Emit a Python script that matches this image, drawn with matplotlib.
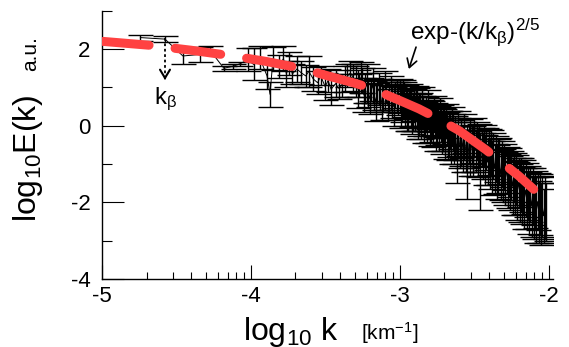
import numpy as np
import matplotlib
matplotlib.use("Agg")
import matplotlib.pyplot as plt

plt.rcParams['font.family'] = ['Liberation Sans', 'DejaVu Sans']
plt.rcParams['mathtext.fontset'] = 'custom'
plt.rcParams['mathtext.rm'] = 'Liberation Sans'
plt.rcParams['mathtext.it'] = 'Liberation Sans'
plt.rcParams['axes.unicode_minus'] = False

# measured spectrum (log10 k, log10 E, error), low k part
logk_lo = [-4.74, -4.575, -4.455, -4.34, -4.275, -4.18, -4.12, -4.07,
           -4.02, -3.98, -3.94, -3.89, -3.87, -3.85, -3.81, -3.78, -3.76,
           -3.74, -3.72, -3.69, -3.66, -3.63, -3.61, -3.58, -3.55, -3.53, -3.50,
           -3.48, -3.46, -3.43, -3.41, -3.39, -3.37, -3.35, -3.33, -3.31, -3.29,
           -3.27, -3.25, -3.23, -3.21, -3.19, -3.17, -3.15, -3.13, -3.11, -3.09,
           -3.07, -3.05, -3.03, -3.01]
logE_lo = [2.30, 2.26, 1.82, 1.86, 1.98, 1.50, 1.55, 1.62,
           1.72, 1.60, 1.78, 1.30, 0.82, 1.75, 1.55, 1.75, 1.35,
           1.62, 1.35, 1.48, 1.38, 1.30, 1.42, 1.22, 1.12, 1.30, 1.02,
           1.18, 0.95, 1.10, 0.98, 1.05, 1.22, 1.30, 1.38, 1.25, 1.15,
           1.05, 1.18, 0.98, 0.85, 0.95, 0.78, 0.90, 0.82, 0.70, 0.88,
           0.75, 0.62, 0.80, 0.68]
err_lo = [0.08, 0.07, 0.22, 0.20, 0.10, 0.06, 0.07, 0.05,
          0.30, 0.42, 0.30, 0.35, 0.32, 0.30, 0.30, 0.32, 0.35,
          0.30, 0.25, 0.35, 0.30, 0.28, 0.40, 0.32, 0.30, 0.25, 0.35,
          0.30, 0.40, 0.35, 0.28, 0.30, 0.35, 0.30, 0.32, 0.35, 0.40,
          0.30, 0.33, 0.40, 0.35, 0.30, 0.38, 0.32, 0.40, 0.35, 0.30,
          0.38, 0.42, 0.35, 0.40]

# extra points in the crowded middle range
logk_fill = [-3.28, -3.26, -3.24, -3.22, -3.20, -3.18, -3.16, -3.14, -3.12, -3.10,
             -3.08, -3.06, -3.04, -3.02, -2.99, -2.97, -2.95, -2.93, -2.91, -2.89,
             -2.87, -2.85, -2.83, -2.81, -2.79, -2.77, -2.75, -2.73, -2.71, -2.69,
             -2.67, -2.65, -2.63, -2.61, -2.59, -2.57, -2.55, -2.53, -2.51]
logE_fill = [0.95, 1.25, 0.80, 1.10, 0.70, 1.05, 0.62, 0.95, 0.60, 0.92,
             0.55, 0.85, 0.50, 0.78, 0.45, 0.68, 0.40, 0.65, 0.35, 0.58,
             0.28, 0.50, 0.18, 0.42, 0.12, 0.32, 0.00, 0.22, -0.10, 0.12,
             -0.22, 0.00, -0.35, -0.12, -0.45, -0.20, -0.55, -0.32, -0.62]
err_fill = [0.50, 0.40, 0.45, 0.50, 0.40, 0.45, 0.50, 0.42, 0.45, 0.50,
            0.40, 0.45, 0.50, 0.42, 0.50, 0.45, 0.55, 0.45, 0.50, 0.45,
            0.55, 0.50, 0.45, 0.50, 0.55, 0.45, 0.50, 0.50, 0.55, 0.45,
            0.60, 0.50, 0.55, 0.50, 0.60, 0.50, 0.55, 0.50, 0.60]

# middle part
logk_mid = [-2.995, -2.985, -2.975, -2.965, -2.955, -2.945, -2.935, -2.925, -2.915, -2.905,
            -2.895, -2.885, -2.875, -2.865, -2.855, -2.845, -2.835, -2.825, -2.815, -2.805,
            -2.795, -2.785, -2.775, -2.765, -2.755, -2.745, -2.735, -2.725, -2.715, -2.705,
            -2.695, -2.685, -2.675, -2.665, -2.655, -2.645, -2.635, -2.625, -2.615, -2.605,
            -2.595, -2.585, -2.575, -2.565, -2.555, -2.545, -2.535, -2.525, -2.515, -2.505]
logE_mid = [0.78, 0.50, 0.70, 0.42, 0.62, 0.35, 0.58, 0.45, 0.28, 0.55,
            0.30, 0.48, 0.20, 0.40, 0.15, 0.35, 0.10, 0.30, 0.05, 0.25,
            0.02, 0.20, -0.05, 0.15, -0.10, 0.10, -0.15, 0.05, -0.20, -0.02,
            -0.28, -0.08, -0.35, -0.12, -0.40, -0.18, -0.45, -0.25, -0.80, -0.30,
            -0.55, -0.35, -0.60, -0.40, -0.65, -1.00, -0.50, -0.70, -0.48, -0.75]
err_mid = [0.45, 0.40, 0.50, 0.42, 0.45, 0.50, 0.40, 0.48, 0.50, 0.42,
           0.45, 0.50, 0.55, 0.45, 0.50, 0.42, 0.55, 0.45, 0.50, 0.42,
           0.55, 0.45, 0.50, 0.45, 0.55, 0.42, 0.50, 0.48, 0.55, 0.45,
           0.60, 0.45, 0.55, 0.50, 0.60, 0.48, 0.55, 0.50, 0.70, 0.50,
           0.55, 0.50, 0.60, 0.50, 0.55, 0.90, 0.50, 0.60, 0.50, 0.55]

# high k part
logk_hi = [-2.498, -2.490, -2.482, -2.474, -2.466, -2.458, -2.450, -2.442, -2.434, -2.426,
           -2.418, -2.410, -2.402, -2.394, -2.386, -2.378, -2.370, -2.362, -2.354, -2.346,
           -2.338, -2.330, -2.322, -2.314, -2.306, -2.298, -2.290, -2.282, -2.274, -2.266,
           -2.258, -2.250, -2.242, -2.234, -2.226, -2.218, -2.210, -2.202, -2.194, -2.186,
           -2.178, -2.170, -2.162, -2.154, -2.146, -2.138, -2.130, -2.122, -2.114, -2.106,
           -2.098, -2.090, -2.082, -2.074, -2.066, -2.058, -2.050, -2.042, -2.034, -2.026,
           -2.018]
logE_hi = [-0.30, -0.65, -0.40, -0.75, -0.50, -1.20, -0.55, -0.80, -0.52, -0.90,
           -0.60, -0.95, -0.68, -1.00, -0.72, -1.10, -0.80, -1.12, -0.88, -1.20,
           -1.05, -0.92, -1.28, -1.00, -1.30, -1.08, -1.38, -1.15, -1.45, -1.22,
           -1.50, -1.30, -1.58, -1.35, -1.62, -1.42, -1.70, -1.48, -1.75, -1.55,
           -1.82, -1.60, -1.90, -1.68, -1.95, -1.75, -2.02, -1.80, -2.10, -1.85,
           -2.15, -1.92, -2.20, -1.98, -2.25, -2.05, -2.30, -2.10, -2.35, -2.15,
           -2.25]
err_hi = [0.50, 0.55, 0.50, 0.60, 0.55, 1.00, 0.50, 0.60, 0.55, 0.65,
          0.55, 0.60, 0.60, 0.65, 0.60, 0.70, 0.60, 0.65, 0.60, 0.70,
          0.70, 0.60, 0.65, 0.60, 0.70, 0.60, 0.70, 0.60, 0.70, 0.65,
          0.70, 0.65, 0.75, 0.65, 0.70, 0.65, 0.75, 0.65, 0.75, 0.70,
          0.75, 0.70, 0.80, 0.70, 0.75, 0.70, 0.80, 0.70, 0.80, 0.75,
          0.80, 0.75, 0.85, 0.75, 0.80, 0.80, 0.80, 0.80, 0.70, 0.80,
          0.75]

# stretched exponential fit
fit_logk = [-4.99, -4.68, -4.4, -4.12, -3.9, -3.78, -3.66, -3.5, -3.31,
            -3.2, -3.0, -2.87, -2.75, -2.6, -2.42, -2.31, -2.2, -2.1]
fit_logE = [2.2, 2.1, 1.97, 1.82, 1.68, 1.59, 1.5, 1.32, 1.12,
            0.99, 0.66, 0.44, 0.2, -0.13, -0.63, -0.97, -1.31, -1.66]

k_beta = -4.575

logk = np.array(logk_lo + logk_fill + logk_mid + logk_hi)
logE = np.array(logE_lo + logE_fill + logE_mid + logE_hi)
errE = np.array(err_lo + err_fill + err_mid + err_hi)
order = np.argsort(logk)
logk, logE, errE = logk[order], logE[order], errE[order]

fig = plt.figure(figsize=(5.69, 3.47), dpi=100)
ax = fig.add_axes([0.1787, 0.196, 0.7933, 0.773])

ax.errorbar(logk, logE, yerr=errE, fmt='-', color='k', lw=0.7,
            elinewidth=1.0, capsize=9, capthick=1.0, zorder=2)
ax.plot(fit_logk, fit_logE, color='#ff4242', lw=6.5, dashes=(5.1, 2.9),
        dash_capstyle='round', solid_capstyle='round', zorder=5)

ax.set_xlim(-5, -1.97)
ax.set_ylim(-4, 3)
ax.set_xticks([-5, -4, -3, -2])
ax.set_xticks([d + np.log10(n) for d in (-5, -4, -3) for n in range(2, 10)], minor=True)
ax.set_yticks([-4, -2, 0, 2])
ax.set_yticks([-3, -1, 1, 3], minor=True)
ax.tick_params(axis='x', which='major', direction='in', length=10, width=0.8, labelsize=16, pad=5)
ax.tick_params(axis='x', which='minor', direction='in', length=5, width=0.8)
ax.tick_params(axis='y', which='major', direction='in', length=16, width=0.8, labelsize=16, pad=8)
ax.tick_params(axis='y', which='minor', direction='in', length=7, width=0.8)
for s in ['top', 'right']:
    ax.spines[s].set_visible(False)
for s in ['left', 'bottom']:
    ax.spines[s].set_linewidth(1.0)

# k_beta marker
ax.plot([k_beta, k_beta], [2.28, 1.3], color='k', lw=1.3, ls=(0, (1.5, 1.5)), zorder=6)
ax.annotate('', xy=(k_beta, 1.12), xytext=(k_beta, 1.35),
            arrowprops=dict(arrowstyle='->,head_length=0.5,head_width=0.3',
                            lw=1.5, color='k', mutation_scale=12))
ax.text(k_beta, 0.68, 'k$_{\\mathrm{β}}$', fontsize=17, ha='center', va='center')

ax.annotate('', xy=(-2.944, 1.41), xytext=(-2.884, 2.12),
            arrowprops=dict(arrowstyle='->,head_length=0.5,head_width=0.3',
                            lw=1.2, color='k', mutation_scale=12))
ax.text(-2.931, 2.25, 'exp-(k/k$_{\\mathrm{β}}$)$^{2/5}$', fontsize=17.5,
        ha='left', va='baseline')

fig.text(28 / 569, 1 - 158 / 347, 'log$_{10}$E(k)', fontsize=23, rotation=90,
         ha='center', va='center')
fig.text(31 / 569, 1 - 54 / 347, 'a.u.', fontsize=15, rotation=90,
         ha='center', va='center')
fig.text(291 / 569, 1 - 340 / 347, 'log$_{10}$ k', fontsize=23,
         ha='center', va='baseline')
fig.text(390 / 569, 1 - 340 / 347, '[km$^{-1}$]', fontsize=15,
         ha='center', va='baseline')

fig.savefig('out.png', dpi=100)
